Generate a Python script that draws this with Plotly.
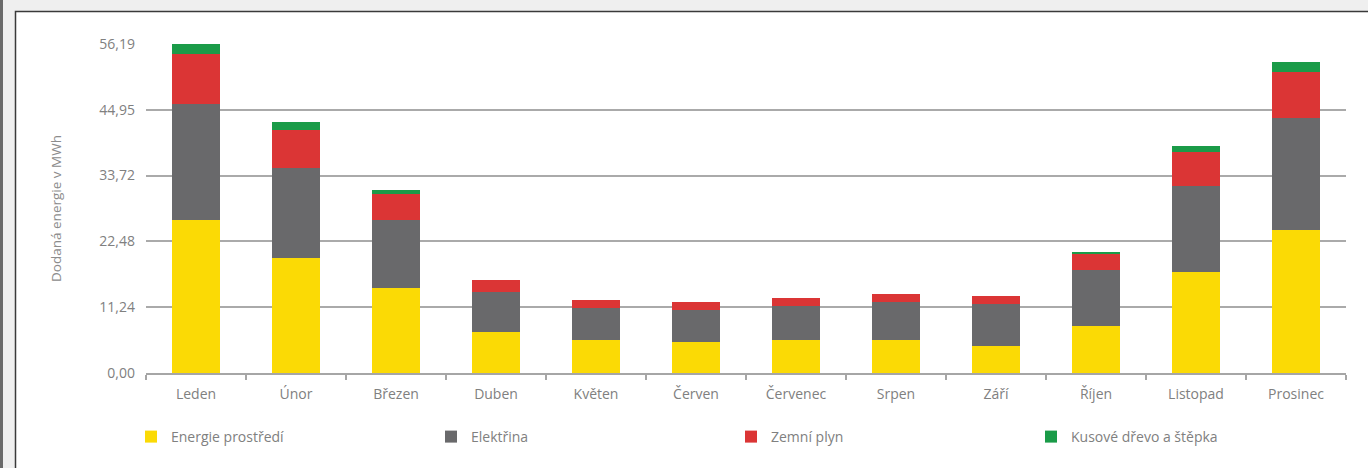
import plotly.graph_objects as go

months = ["Leden", "Únor", "Březen", "Duben", "Květen", "Červen", "Červenec",
          "Srpen", "Září", "Říjen", "Listopad", "Prosinec"]
energie_prostredi = [26.13, 19.64, 14.52, 7.00, 5.64, 5.29, 5.64, 5.64, 4.61, 8.03, 17.25, 24.42]
elektrina = [19.81, 15.37, 11.61, 6.83, 5.46, 5.47, 5.80, 6.49, 7.17, 9.56, 14.69, 19.13]
zemni_plyn = [8.54, 6.49, 4.44, 2.05, 1.37, 1.37, 1.37, 1.36, 1.37, 2.73, 5.81, 7.86]
drevo = [1.71, 1.37, 0.68, 0.0, 0.0, 0.0, 0.0, 0.0, 0.0, 0.35, 1.02, 1.71]

tick_vals = [0, 11.24, 22.48, 33.72, 44.95, 56.19]
tick_text = ["0,00", "11,24", "22,48", "33,72", "44,95", "56,19"]

series = [
    ("Energie prostředí", energie_prostredi, "#FBDA05"),
    ("Elektřina", elektrina, "#69696B"),
    ("Zemní plyn", zemni_plyn, "#DB3535"),
    ("Kusové dřevo a štěpka", drevo, "#1A9B48"),
]

fig = go.Figure()
for name, vals, color in series:
    fig.add_trace(go.Bar(x=months, y=vals, name=name, marker_color=color,
                         marker_line_width=0))

W, H = 1368, 468
L, R, T, B = 146, 22, 44, 95
pw, ph = W - L - R, H - T - B

def px_x(x):
    return (x - L) / pw

def px_y(y):
    return (H - B - y) / ph

fig.update_layout(
    width=W, height=H,
    margin=dict(l=L, r=R, t=T, b=B, autoexpand=False),
    paper_bgcolor="#EFEFEF",
    plot_bgcolor="white",
    barmode="stack",
    bargap=0.52,
    font=dict(family="Open Sans", size=14, color="#808080"),
    showlegend=True,
    legend=dict(orientation="h", x=px_x(131), xanchor="left",
                y=px_y(437), yanchor="middle",
                entrywidth=255, entrywidthmode="pixels",
                font=dict(size=14, color="#808080"),
                traceorder="normal", bgcolor="rgba(0,0,0,0)"),
    shapes=[
        dict(type="rect", xref="paper", yref="paper", layer="below",
             x0=px_x(15.5), x1=px_x(1400), y0=px_y(520), y1=px_y(11.5),
             fillcolor="white", line=dict(color="#3A3A3A", width=1.5)),
        dict(type="rect", xref="paper", yref="paper", layer="below",
             x0=px_x(-2), x1=px_x(3), y0=px_y(520), y1=px_y(-2),
             fillcolor="#6A6A6A", line=dict(width=0)),
    ],
    xaxis=dict(
        showgrid=False, showline=True, linecolor="#A6A6A6", linewidth=1.5,
        ticks="outside", tickson="boundaries", ticklen=5, tickcolor="#A6A6A6",
        tickwidth=1.5, ticklabelstandoff=7, tickfont=dict(size=14, color="#808080"),
    ),
    yaxis=dict(
        range=[0, 56.19], tickvals=tick_vals, ticktext=tick_text,
        showgrid=True, gridcolor="#AAAAAA", gridwidth=1.5,
        zeroline=False, showline=False, ticks="", ticklabelstandoff=10,
        tickfont=dict(size=14, color="#808080"),
        title=dict(text="Dodaná energie v MWh", standoff=34,
                   font=dict(size=13.5, color="#8C8C8C")),
    ),
)

fig.write_html("out.html", config={"displayModeBar": False},
               post_script="document.body.style.margin='0';")
